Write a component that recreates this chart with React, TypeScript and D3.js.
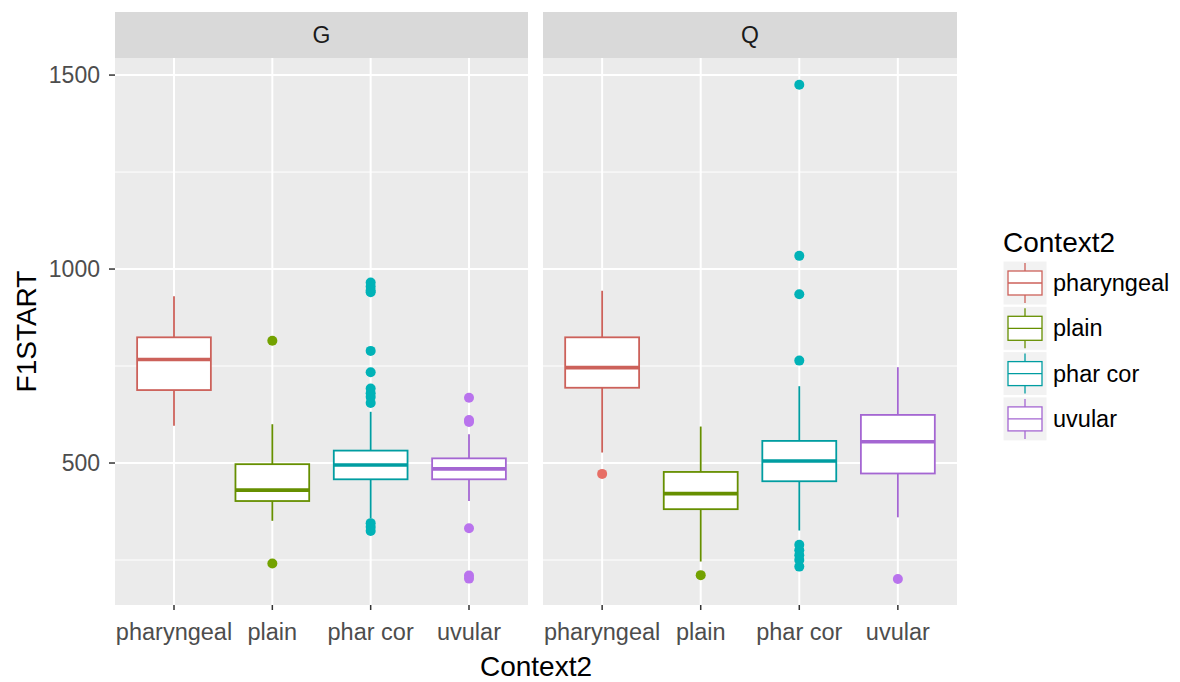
import React from "react";
import * as d3 from "d3";

// categories and facets
const categories = ["pharyngeal", "plain", "phar cor", "uvular"];
const facets = ["G", "Q"];
const colors = ["#F8766D", "#7CAE00", "#00BFC4", "#C77CFF"];

// box stats per facet, ordered like categories
const lowerG = [596, 351, 357, 402];
const q1G = [688, 402, 458, 458];
const medG = [767, 430, 495, 485];
const q3G = [824, 497, 532, 512];
const upperG = [930, 600, 632, 574];
const outliersG = [
  [],
  [815, 241],
  [965, 955, 945, 940, 789, 734, 692, 680, 670, 655, 345, 335, 325],
  [668, 611, 606, 332, 210, 202],
];

const lowerQ = [527, 246, 326, 360];
const q1Q = [694, 381, 453, 473];
const medQ = [746, 421, 505, 555];
const q3Q = [824, 477, 557, 624];
const upperQ = [944, 594, 698, 747];
const outliersQ = [
  [472],
  [211],
  [1475, 1034, 935, 764, 289, 275, 262, 250, 233],
  [201],
];

const yMajor = [500, 1000, 1500];
const yMinor = [250, 750, 1250];

const stats = [
  { lower: lowerG, q1: q1G, med: medG, q3: q3G, upper: upperG, out: outliersG },
  { lower: lowerQ, q1: q1Q, med: medQ, q3: q3Q, upper: upperQ, out: outliersQ },
];

const W = 1180;
const H = 682;
const FONT = "'Liberation Sans', Arial, sans-serif";
const panelTop = 58;
const panelBottom = 605;
const stripTop = 12;
const panelRanges = [
  [115, 528],
  [543, 957],
];

const y = d3.scaleLinear().domain([134, 1544]).range([panelBottom, panelTop]);
const lineCol = (i: number) => d3.color(colors[i])!.darker(0.55).formatHex();
const dotCol = (i: number) => d3.color(colors[i])!.darker(0.2).formatHex();

function Panel({ idx }: { idx: number }) {
  const [x0, x1] = panelRanges[idx];
  const x = d3.scalePoint<string>().domain(categories).range([x0, x1]).padding(0.6);
  const half = x.step() * 0.375;
  const s = stats[idx];
  return (
    <g>
      <rect x={x0} y={stripTop} width={x1 - x0} height={panelTop - stripTop} fill="#D9D9D9" />
      <text x={(x0 + x1) / 2} y={(stripTop + panelTop) / 2} textAnchor="middle" dominantBaseline="central"
        fontSize={23} fill="#1A1A1A" fontFamily={FONT}>{facets[idx]}</text>
      <rect x={x0} y={panelTop} width={x1 - x0} height={panelBottom - panelTop} fill="#EBEBEB" />
      {yMinor.map((v) => (
        <line key={"mi" + v} x1={x0} x2={x1} y1={y(v)} y2={y(v)} stroke="#fff" strokeWidth={1} />
      ))}
      {yMajor.map((v) => (
        <line key={"ma" + v} x1={x0} x2={x1} y1={y(v)} y2={y(v)} stroke="#fff" strokeWidth={2} />
      ))}
      {categories.map((c) => (
        <line key={"v" + c} x1={x(c)} x2={x(c)} y1={panelTop} y2={panelBottom} stroke="#fff" strokeWidth={2} />
      ))}
      {categories.map((c, i) => {
        const cx = x(c) as number;
        const col = lineCol(i);
        return (
          <g key={c}>
            <line x1={cx} x2={cx} y1={y(s.upper[i])} y2={y(s.q3[i])} stroke={col} strokeWidth={1.8} />
            <line x1={cx} x2={cx} y1={y(s.q1[i])} y2={y(s.lower[i])} stroke={col} strokeWidth={1.8} />
            <rect x={cx - half} y={y(s.q3[i])} width={half * 2} height={y(s.q1[i]) - y(s.q3[i])}
              fill="#fff" stroke={col} strokeWidth={1.8} />
            <line x1={cx - half} x2={cx + half} y1={y(s.med[i])} y2={y(s.med[i])} stroke={col} strokeWidth={3.6} />
            {s.out[i].map((v, j) => (
              <circle key={j} cx={cx} cy={y(v)} r={5} fill={dotCol(i)} />
            ))}
          </g>
        );
      })}
      {categories.map((c) => (
        <g key={"t" + c}>
          <line x1={x(c)} x2={x(c)} y1={panelBottom} y2={panelBottom + 5} stroke="#333" strokeWidth={1.5} />
          <text x={x(c)} y={640} textAnchor="middle" fontSize={23.5} fill="#4D4D4D" fontFamily={FONT}>{c}</text>
        </g>
      ))}
    </g>
  );
}

export default function App() {
  const legendY = (i: number) => 283 + i * 45.3;
  return (
    <svg width={W} height={H} style={{ display: "block", position: "absolute", left: 0, top: 0 }}>
      <rect width={W} height={H} fill="#fff" />
      <Panel idx={0} />
      <Panel idx={1} />
      {yMajor.map((v) => (
        <g key={v}>
          <line x1={109} x2={115} y1={y(v)} y2={y(v)} stroke="#333" strokeWidth={1.5} />
          <text x={100} y={y(v)} textAnchor="end" dominantBaseline="central" fontSize={23} fill="#4D4D4D"
            fontFamily={FONT}>{v}</text>
        </g>
      ))}
      <text transform={`translate(36,${(panelTop + panelBottom) / 2}) rotate(-90)`} textAnchor="middle"
        fontSize={28} fill="#000" fontFamily={FONT}>F1START</text>
      <text x={(panelRanges[0][0] + panelRanges[1][1]) / 2} y={676} textAnchor="middle" fontSize={28}
        fill="#000" fontFamily={FONT}>Context2</text>
      <text x={1003} y={252} fontSize={28} fill="#000" fontFamily={FONT}>Context2</text>
      {categories.map((c, i) => {
        const cy = legendY(i);
        const col = lineCol(i);
        return (
          <g key={"l" + c}>
            <rect x={1003} y={cy - 22} width={44} height={44} fill="#F2F2F2" stroke="#fff" strokeWidth={1} />
            <line x1={1025} x2={1025} y1={cy - 20} y2={cy + 20} stroke={col} strokeWidth={1.3} />
            <rect x={1008} y={cy - 12} width={34} height={24} fill="#fff" stroke={col} strokeWidth={1.3} />
            <line x1={1008} x2={1042} y1={cy} y2={cy} stroke={col} strokeWidth={1.3} />
            <text x={1053} y={cy} dominantBaseline="central" fontSize={23.5} fill="#000" fontFamily={FONT}>{c}</text>
          </g>
        );
      })}
    </svg>
  );
}
